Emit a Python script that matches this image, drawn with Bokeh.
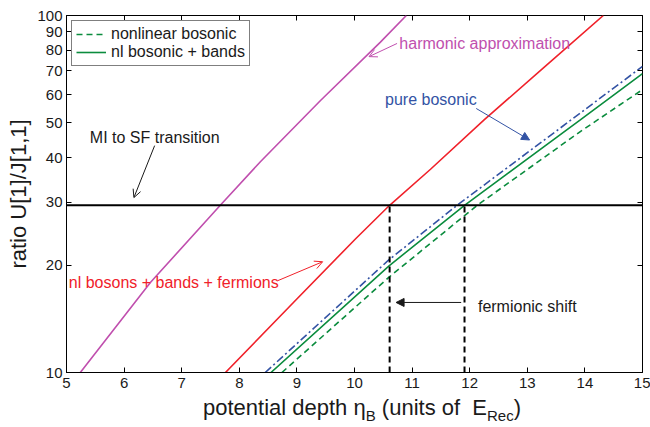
from bokeh.plotting import figure
from bokeh.layouts import column
from bokeh.models import (FixedTicker, LinearAxis, LogAxis, Range1d, Label, Arrow, Div,
                          OpenHead, NormalHead, NumeralTickFormatter)
from bokeh.embed import file_html
from bokeh.resources import INLINE

# ---------------- data ----------------
x_ticks = [5, 6, 7, 8, 9, 10, 11, 12, 13, 14, 15]
y_ticks = [10, 20, 30, 40, 50, 60, 70, 80, 90, 100]

harmonic_x = [5.24, 6.46, 7.67, 8.37, 9.41, 10.45, 10.90]
harmonic_y = [10.0, 17.9, 29.4, 39.0, 57.8, 84.2, 100.0]

fermions_x = [7.76, 8.94, 10.02, 10.61, 11.32, 12.25, 13.30, 14.32]
fermions_y = [10.0, 15.7, 23.7, 29.4, 37.1, 51.0, 71.8, 100.0]

pure_x = [8.45, 10.60, 11.78, 13.92, 15.0]
pure_y = [10.0, 20.7, 29.4, 53.3, 72.0]

bands_x = [8.55, 10.60, 11.91, 13.92, 15.0]
bands_y = [10.0, 19.9, 29.4, 51.0, 68.7]

nonlin_x = [8.74, 10.60, 12.13, 13.92, 15.0]
nonlin_y = [10.0, 18.5, 29.4, 47.3, 62.0]

transition_ratio = 29.4
shift_x = [10.61, 11.91]

MAGENTA = "#c04fae"
RED = "#f0212a"
GREEN = "#0b8c3e"
BLUE = "#3353a4"
INK = "#1a1a1a"
FONT = "Liberation Sans"

p = figure(frame_width=576, frame_height=357,
           min_border_left=66, min_border_right=8, min_border_top=15, min_border_bottom=23,
           x_range=Range1d(5, 15), y_range=Range1d(10, 100), y_axis_type="log",
           output_backend="svg", toolbar_location=None,
           background_fill_color="white", border_fill_color="white")
p.xgrid.visible = False
p.ygrid.visible = False
p.outline_line_color = "black"
p.outline_line_width = 1

xa = p.below[0]
xa.ticker = FixedTicker(ticks=x_ticks)
ya = p.left[0]
ya.ticker = FixedTicker(ticks=y_ticks)
ya.formatter = NumeralTickFormatter(format="0")
for ax in (xa, ya):
    ax.major_tick_in = 5
    ax.major_tick_out = 0
    ax.minor_tick_in = 0
    ax.minor_tick_out = 0
    ax.axis_line_color = "black"
    ax.major_tick_line_color = "black"
    ax.major_label_text_font = FONT
    ax.major_label_text_font_size = "15px"
    ax.major_label_text_color = INK
xa.major_label_standoff = 5
ya.major_label_standoff = 4
ya.axis_label = "ratio U[1]/J[1,1]"
ya.axis_label_text_font = FONT
ya.axis_label_text_font_size = "22px"
ya.axis_label_text_font_style = "normal"
ya.axis_label_text_color = INK
ya.axis_label_standoff = 3

# mirrored tick marks on the top and right (box style), without labels
top = LinearAxis(ticker=FixedTicker(ticks=x_ticks), major_tick_in=5, major_tick_out=0,
                 minor_tick_in=0, minor_tick_out=0, axis_line_color=None,
                 major_label_standoff=0, major_label_text_font_size="1px",
                 major_label_text_color=None)
p.add_layout(top, "above")
right = LogAxis(ticker=FixedTicker(ticks=y_ticks), major_tick_in=5, major_tick_out=0,
                minor_tick_in=0, minor_tick_out=0, axis_line_color=None,
                major_label_standoff=0, major_label_text_font_size="1px",
                major_label_text_color=None)
p.add_layout(right, "right")

# ---------------- curves ----------------
p.line(harmonic_x, harmonic_y, line_color=MAGENTA, line_width=1.6)
p.line(fermions_x, fermions_y, line_color=RED, line_width=1.6)
p.line(pure_x, pure_y, line_color=BLUE, line_width=1.6, line_dash="8 3 2 3")
p.line(nonlin_x, nonlin_y, line_color=GREEN, line_width=1.6, line_dash="6 4",
       legend_label="nonlinear bosonic")
p.line(bands_x, bands_y, line_color=GREEN, line_width=1.6,
       legend_label="nl bosonic + bands")

p.line([x_ticks[0], x_ticks[-1]], [transition_ratio, transition_ratio],
       line_color="black", line_width=2)
p.segment(x0=shift_x, y0=[y_ticks[0]] * 2, x1=shift_x, y1=[transition_ratio] * 2,
          line_color="black", line_width=2, line_dash="6 4")

# ---------------- legend ----------------
lg = p.legend[0]
lg.location = "top_left"
lg.margin = 5
lg.padding = 4
lg.spacing = 0
lg.glyph_width = 30
lg.glyph_height = 18
lg.label_height = 18
lg.label_standoff = 5
lg.label_text_font = FONT
lg.label_text_font_size = "16px"
lg.label_text_color = INK
lg.border_line_color = "black"
lg.border_line_width = 1
lg.background_fill_alpha = 1

# ---------------- annotations ----------------
def txt(x, y, s, color, size="16px", baseline="middle"):
    p.add_layout(Label(x=x, y=y, text=s, text_color=color, text_font=FONT,
                       text_font_size=size, text_baseline=baseline, text_align="left"))

def arrow(x0, y0, x1, y1, color, filled):
    head = (NormalHead(size=8, fill_color=color, line_color=color) if filled
            else OpenHead(size=8, line_color=color, line_width=1))
    p.add_layout(Arrow(end=head, x_start=x0, y_start=y0, x_end=x1, y_end=y1,
                       line_color=color, line_width=1))

txt(10.779, 83.6, "harmonic approximation", MAGENTA)
arrow(10.739, 83.5, 10.252, 76.7, MAGENTA, False)

txt(10.530, 58.1, "pure bosonic", BLUE)
arrow(12.113, 54.9, 13.04, 44.8, BLUE, True)

txt(5.405, 45.6, "MI to SF transition", INK)
arrow(6.530, 43.2, 6.170, 30.9, INK, False)

txt(5.040, 17.88, "nl bosons + bands + fermions", RED)
arrow(8.664, 18.07, 9.447, 20.43, RED, False)

txt(12.143, 15.28, "fermionic shift", INK)
arrow(11.852, 15.71, 10.722, 15.71, INK, True)

# x-axis label with subscripts (HTML text below the plot)
sub = "font-size:15px; position:relative; top:6px;"
xlabel = Div(
    text=("potential depth η<span style='%s'>B</span> (units of&nbsp;&nbsp;E"
          "<span style='%s'>Rec</span>)") % (sub, sub),
    width=650, height=32, margin=0,
    styles={"font-family": FONT, "font-size": "22px", "color": INK,
            "padding-left": "203px", "line-height": "26px", "white-space": "nowrap"})

layout = column(p, xlabel, spacing=0)
open("out.html", "w").write(file_html(layout, INLINE))
